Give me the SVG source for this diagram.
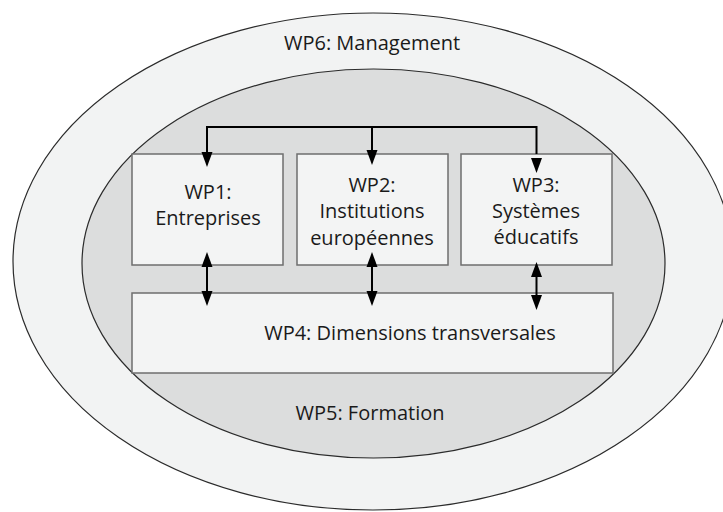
<svg xmlns="http://www.w3.org/2000/svg" width="723" height="512" viewBox="0 0 723 512">
<defs>
<style>
text{font-family:"Open Sans","Noto Sans","Liberation Sans",sans-serif;font-size:20px;fill:#1a1a1a;text-anchor:middle}
.ell{stroke:#2b2b2b;stroke-width:1.2}
.box{fill:#f3f4f4;stroke:#6e6e6e;stroke-width:1.5}
.con{stroke:#000;stroke-width:2;fill:none}
.hd{fill:#000}
</style>
</defs>
<rect width="723" height="512" fill="#ffffff"/>
<g id="wp6">
<ellipse class="ell" cx="373" cy="261.5" rx="360" ry="248.5" fill="#f2f3f3"/>
<text x="372" y="50">WP6: Management</text>
</g>
<g id="wp5">
<ellipse class="ell" cx="373.5" cy="263.5" rx="291.5" ry="194.5" fill="#dcdddd"/>
<text x="370" y="420">WP5: Formation</text>
</g>
<g id="wp1">
<rect class="box" x="132" y="154" width="151" height="111"/>
<text x="208" y="199">WP1:</text>
<text x="208" y="225">Entreprises</text>
</g>
<g id="wp2">
<rect class="box" x="297" y="154" width="151" height="111"/>
<text x="372" y="192">WP2:</text>
<text x="372" y="218">Institutions</text>
<text x="372" y="245">européennes</text>
</g>
<g id="wp3">
<rect class="box" x="461" y="154" width="151" height="111"/>
<text x="536" y="192">WP3:</text>
<text x="536" y="218">Systèmes</text>
<text x="536" y="244">éducatifs</text>
</g>
<g id="wp4">
<rect class="box" x="132" y="293" width="481" height="80"/>
<text x="410" y="340">WP4: Dimensions transversales</text>
</g>
<g id="connectors">
<path class="con" d="M207,152 V127 H536.5 V154 M372,127 V152"/>
<polygon class="hd" points="201.5,152 212.5,152 207,167"/>
<polygon class="hd" points="366.5,150 377.5,150 372,165"/>
<polygon class="hd" points="531,158 542,158 536.5,173"/>
<path class="con" d="M207,265 V293"/>
<polygon class="hd" points="207,252 201.5,267 212.5,267"/>
<polygon class="hd" points="207,306 201.5,291 212.5,291"/>
<path class="con" d="M372,265 V293"/>
<polygon class="hd" points="372,252 366.5,267 377.5,267"/>
<polygon class="hd" points="372,306 366.5,291 377.5,291"/>
<path class="con" d="M536.5,275 V297"/>
<polygon class="hd" points="536.5,262 531,277 542,277"/>
<polygon class="hd" points="536.5,310 531,295 542,295"/>
</g>
</svg>
